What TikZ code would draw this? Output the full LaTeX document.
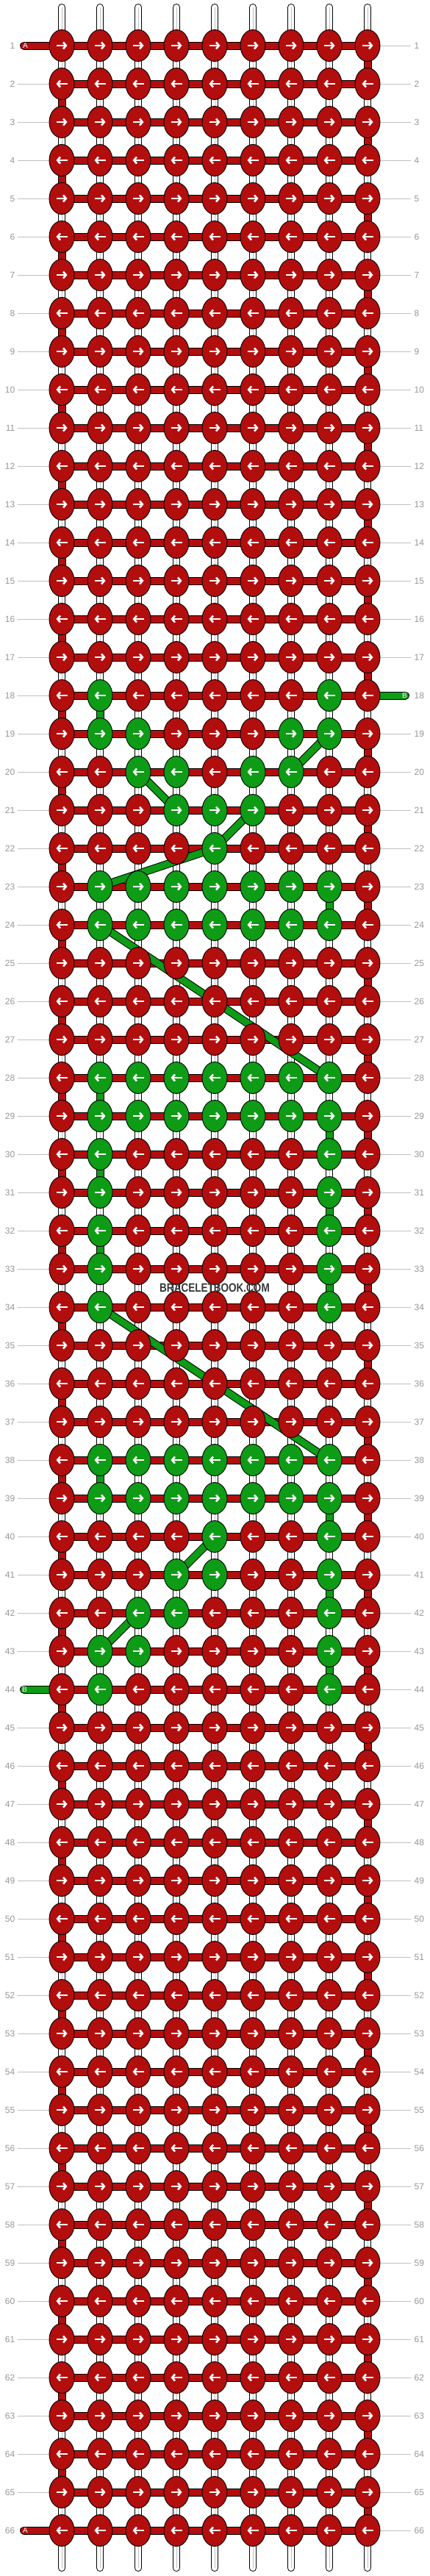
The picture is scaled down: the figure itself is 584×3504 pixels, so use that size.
\documentclass[tikz,border=0pt]{standalone}
\usepackage{fontspec}
\setmainfont{Liberation Sans}
\usepackage{graphicx}
\usetikzlibrary{shapes.geometric,arrows.meta}

\definecolor{knotred}{RGB}{178,14,14}
\definecolor{knotgreen}{RGB}{14,155,22}
\definecolor{rowgray}{RGB}{192,192,192}
\definecolor{numgray}{RGB}{150,150,150}
\definecolor{markgray}{RGB}{55,55,55}

\pgfdeclarelayer{strands}
\pgfdeclarelayer{threads}
\pgfsetlayers{strands,threads,main}

\tikzset{
  knot/.style={draw=black, line width=0.9pt, ellipse, minimum width=34pt, minimum height=43pt, inner sep=0pt},
  thread/.style={draw=black, line width=1pt, double=#1, double distance=9pt},
  strand/.style={draw=black, line width=1pt, double=white, double distance=8pt, line cap=round},
  midline/.style={draw=rowgray, line width=0.8pt},
  rowline/.style={draw=rowgray, line width=1pt},
  rownum/.style={text=numgray, font=\fontsize{12}{12}\selectfont, inner sep=0pt},
  tag/.style={text=white, font=\fontsize{10}{10}\selectfont, inner sep=0pt},
  dir/.style={white, line width=2.6pt, -{Straight Barb[length=3.8pt,width=9pt]}}
}

\begin{document}
\begin{tikzpicture}[x=1pt, y=-1pt]
    \useasboundingbox (0,0) rectangle (584,3504);

    % green knots
    \foreach \r/\cols in {18/{2,8},19/{2,3,7,8},20/{3,4,6,7},21/{4,5,6},22/{5},
        23/{2,...,8},24/{2,...,8},28/{2,...,8},29/{2,...,8},30/{2,8},31/{2,8},
        32/{2,8},33/{2,8},34/{2,8},38/{2,...,8},39/{2,...,8},40/{5,8},
        41/{4,5,8},42/{3,4,8},43/{2,3,8},44/{2,8}}
        {\foreach \c in \cols {\expandafter\gdef\csname gk-\r-\c\endcsname{}}}

    % Nodes
    \foreach \r in {1,...,66} {
      \foreach \c in {1,...,9} {
        \ifcsname gk-\r-\c\endcsname \def\kfill{knotgreen}\else \def\kfill{knotred}\fi
        \node [knot, fill=\kfill] (k-\r-\c) at ({84+52*(\c-1)}, {62+52*(\r-1)}) {};
        \ifodd\r
          \draw [dir] ([xshift=-7.5pt]k-\r-\c.center) -- ([xshift=7.5pt]k-\r-\c.center);
        \else
          \draw [dir] ([xshift=7.5pt]k-\r-\c.center) -- ([xshift=-7.5pt]k-\r-\c.center);
        \fi
      }
    }
    \node [font=\fontsize{16.5}{16.5}\selectfont\bfseries, text=markgray, inner sep=0pt] (mark) at (292,1752)
        {\scalebox{0.82}[1]{BRACELETBOOK.COM}};

    % Strands and row numbers
    \begin{pgfonlayer}{strands}
      \foreach \c in {1,...,9} {
        \coordinate (top-\c) at ({84+52*(\c-1)}, 10);
        \coordinate (bot-\c) at ({84+52*(\c-1)}, 3493);
        \draw [strand] (top-\c) -- (bot-\c);
        \draw [midline] (top-\c) -- (bot-\c);
      }
      \foreach \r in {1,...,66} {
        \coordinate (ll-\r) at (24, {62+52*(\r-1)});
        \coordinate (rl-\r) at (559, {62+52*(\r-1)});
        \node [rownum, anchor=east] (nl-\r) at (20.5, {62+52*(\r-1)}) {\r};
        \node [rownum, anchor=west] (nr-\r) at (563.5, {62+52*(\r-1)}) {\r};
        \ifnum\r=1 \else\ifnum\r=44 \else\ifnum\r=66 \else
          \draw [rowline] (ll-\r) -- (k-\r-1.center);
        \fi\fi\fi
        \ifnum\r=18 \else
          \draw [rowline] (k-\r-9.center) -- (rl-\r);
        \fi
      }
    \end{pgfonlayer}

    % Arrows
    \begin{pgfonlayer}{threads}
      \foreach \r in {1,...,66}
        \foreach \c [count=\cn from 2] in {1,...,8}
          \draw [thread=knotred] (k-\r-\c.center) -- (k-\r-\cn.center);
      \foreach \r [count=\rn from 2] in {1,...,65} {
        \ifodd\r
          \draw [thread=knotred] (k-\r-9.center) -- (k-\rn-9.center);
        \else
          \draw [thread=knotred] (k-\r-1.center) -- (k-\rn-1.center);
        \fi
      }
      \foreach \r/\c in {18/2,23/8,28/2,29/8,30/2,31/8,32/2,33/8,38/2,39/8,41/8,43/8} {
        \pgfmathtruncatemacro\rn{\r+1}
        \draw [thread=knotgreen] (k-\r-\c.center) -- (k-\rn-\c.center);
      }
      \foreach \ra/\ca/\rb/\cb in {19/8/20/7,20/3/21/4,21/6/22/5,22/5/23/2,
          24/2/28/8,34/2/38/8,40/5/41/4,42/3/43/2}
        \draw [thread=knotgreen] (k-\ra-\ca.center) -- (k-\rb-\cb.center);

      % loose ends
      \coordinate (a-in) at (32.5,62);
      \coordinate (a-out) at (32.5,3442);
      \coordinate (b-in) at (551.5,946);
      \coordinate (b-out) at (32.5,2298);
      \draw [thread=knotred, line cap=round] (a-in) -- (k-1-1.center);
      \draw [thread=knotred, line cap=round] (a-out) -- (k-66-1.center);
      \draw [thread=knotgreen, line cap=round] (k-18-9.center) -- (b-in);
      \draw [thread=knotgreen, line cap=round] (b-out) -- (k-44-1.center);
      \node [tag] (a-tag) at (34.5,62) {A};
      \node [tag] (a-tag2) at (34.5,3442) {A};
      \node [tag] (b-tag) at (550.5,946) {B};
      \node [tag] (b-tag2) at (33.5,2298) {B};
    \end{pgfonlayer}
\end{tikzpicture}
\end{document}
